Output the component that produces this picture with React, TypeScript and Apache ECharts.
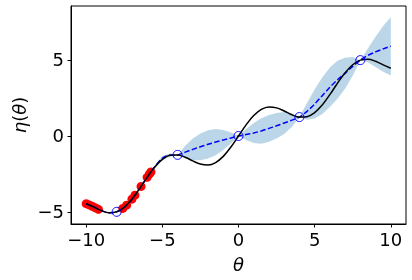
import React, { useEffect, useRef } from "react";
import * as echarts from "echarts";

// theta grid (x values) for the curves
const thetaGrid = [
  -10, -9.5, -9, -8.5, -8, -7.5, -7, -6.5, -6, -5.5, -5, -4.5, -4, -3.5, -3, -2.5, -2, -1.5, -1, -0.5,
  0, 0.5, 1, 1.5, 2, 2.5, 3, 3.5, 4, 4.5, 5, 5.5, 6, 6.5, 7, 7.5, 8, 8.5, 9, 9.5, 10,
];
// true function η(θ) (black line)
const trueEta = [
  -4.456, -4.675, -4.912, -5.048, -4.989, -4.688, -4.157, -3.465, -2.721, -2.044, -1.541, -1.272, -1.243,
  -1.399, -1.641, -1.848, -1.909, -1.747, -1.341, -0.729, 0, 0.729, 1.341, 1.747, 1.909, 1.848, 1.641,
  1.399, 1.243, 1.272, 1.541, 2.044, 2.721, 3.465, 4.157, 4.688, 4.989, 5.048, 4.912, 4.675, 4.456,
];
// GP mean (blue dashed)
const meanEta = [
  -4.456, -4.675, -4.912, -5.048, -4.989, -4.688, -4.157, -3.465, -2.721, -2.02, -1.47, -1.26, -1.243,
  -1.06, -0.88, -0.71, -0.55, -0.4, -0.26, -0.13, 0, 0.1, 0.2, 0.33, 0.5, 0.67, 0.85, 1.04, 1.243,
  1.62, 2.1, 2.65, 3.2, 3.7, 4.12, 4.58, 4.989, 5.3, 5.53, 5.73, 5.9,
];
// half-width of the confidence band
const bandHalf = [
  0.05, 0.02, 0.02, 0.02, 0, 0.02, 0.02, 0.02, 0.02, 0.08, 0.15, 0.1, 0, 0.42, 0.72, 0.88, 0.93, 0.86,
  0.66, 0.36, 0, 0.36, 0.66, 0.84, 0.88, 0.84, 0.72, 0.45, 0, 0.55, 0.95, 1.2, 1.3, 1.25, 1.02, 0.62, 0,
  0.45, 1.0, 1.5, 1.92,
];
// red sample points
const redTheta = [-10, -9.8, -9.6, -9.4, -9.2, -7.6, -7.35, -7.0, -6.8, -6.4, -6.0, -5.85, -5.75];
const redEta = [-4.456, -4.534, -4.626, -4.725, -4.823, -4.768, -4.551, -4.157, -3.894, -3.317, -2.721, -2.505, -2.367];
// training points (blue open circles)
const trainTheta = [-8, -4, 0, 4, 8];
const trainEta = [-4.989, -1.243, 0, 1.243, 4.989];
// tick labels
const xTicks = [-10, -5, 0, 5, 10];
const yTicks = [-5, 0, 5];

const FONT = "DejaVu Sans";

export default function App() {
  const ref = useRef<HTMLDivElement>(null);
  useEffect(() => {
    if (!ref.current) return;
    const chart = echarts.init(ref.current, null, { renderer: "svg" });
    const fmt = (v: number) => String(v).replace("-", "\u2212");
    const axisLine = { show: true, onZero: false, lineStyle: { color: "#000", width: 1 } };
    chart.setOption({
      animation: false,
      grid: {
        left: 71,
        right: 6,
        top: 6,
        bottom: 56,
        show: true,
        borderColor: "#000",
        borderWidth: 1,
        backgroundColor: "transparent",
      },
      xAxis: {
        type: "value",
        min: -11,
        max: 11,
        axisLine,
        splitLine: { show: false },
        axisTick: { show: true, customValues: xTicks, length: 3.5, lineStyle: { color: "#000", width: 1 } },
        axisLabel: {
          customValues: xTicks,
          fontSize: 18,
          fontFamily: FONT,
          color: "#000",
          margin: 6,
          formatter: fmt,
        },
      },
      yAxis: {
        type: "value",
        min: -5.79,
        max: 8.55,
        axisLine,
        splitLine: { show: false },
        axisTick: { show: true, customValues: yTicks, length: 3.5, lineStyle: { color: "#000", width: 1 } },
        axisLabel: {
          customValues: yTicks,
          fontSize: 18,
          fontFamily: FONT,
          color: "#000",
          margin: 7,
          formatter: fmt,
        },
      },
      graphic: [
        {
          type: "text",
          x: 238.5,
          y: 264,
          style: {
            text: "θ",
            fontSize: 18,
            fontStyle: "italic",
            fontFamily: FONT,
            fill: "#000",
            align: "center",
            verticalAlign: "middle",
          },
        },
        {
          type: "text",
          x: 19,
          y: 115,
          rotation: Math.PI / 2,
          style: {
            text: "{i|η}{n|(}{i|θ}{n|)}",
            fontSize: 18,
            fontFamily: FONT,
            fill: "#000",
            align: "center",
            verticalAlign: "middle",
            rich: {
              i: { fontStyle: "italic", fontSize: 18, fontFamily: FONT, fill: "#000" },
              n: { fontStyle: "normal", fontSize: 18, fontFamily: FONT, fill: "#000" },
            },
          },
        },
      ],
      series: [
        {
          type: "custom",
          z: 1,
          silent: true,
          clip: true,
          data: [[0, 0]],
          renderItem: (params: any, api: any) => {
            const upper = thetaGrid.map((t, i) => api.coord([t, meanEta[i] + bandHalf[i]]));
            const lower = thetaGrid.map((t, i) => api.coord([t, meanEta[i] - bandHalf[i]])).reverse();
            return {
              type: "polygon",
              shape: { points: upper.concat(lower) },
              style: { fill: "rgba(31,119,180,0.3)", stroke: "none" },
            };
          },
        },
        {
          type: "scatter",
          z: 2,
          symbol: "circle",
          symbolSize: 9,
          itemStyle: { color: "#ff0000", opacity: 1 },
          data: redTheta.map((t, i) => [t, redEta[i]]),
        },
        {
          type: "line",
          z: 3,
          showSymbol: false,
          smooth: 0.3,
          lineStyle: { color: "#0000ff", width: 1.5, type: [5.5, 2.4] },
          data: thetaGrid.map((t, i) => [t, meanEta[i]]),
        },
        {
          type: "line",
          z: 4,
          showSymbol: false,
          smooth: 0.4,
          lineStyle: { color: "#000", width: 1.5 },
          data: thetaGrid.map((t, i) => [t, trueEta[i]]),
        },
        {
          type: "scatter",
          z: 5,
          symbol: "circle",
          symbolSize: 9,
          itemStyle: { color: "none", borderColor: "#0000ff", borderWidth: 1, opacity: 1 },
          data: trainTheta.map((t, i) => [t, trainEta[i]]),
        },
      ],
    });
    return () => chart.dispose();
  }, []);
  return <div ref={ref} style={{ position: "fixed", left: 0, top: 0, width: 412, height: 280 }} />;
}
